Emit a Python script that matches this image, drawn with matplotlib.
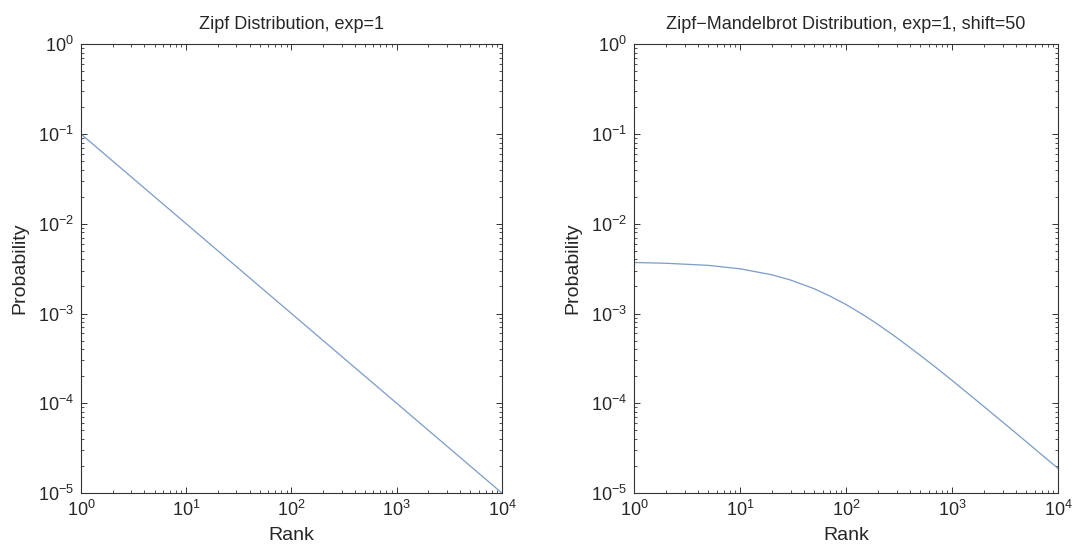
import matplotlib
matplotlib.use('Agg')
import matplotlib.pyplot as plt
import matplotlib.ticker as mticker

# values
zipf_rank = [1, 10, 100, 1000, 10000]
zipf_prob = [0.1, 0.01, 1e-3, 1e-4, 1e-5]

zm_rank = [1, 2, 5, 10, 20, 30, 50, 70, 100, 150, 200, 300, 500, 700,
           1000, 2000, 3000, 5000, 10000]
zm_prob = [3.70e-3, 3.63e-3, 3.44e-3, 3.15e-3, 2.70e-3, 2.36e-3, 1.89e-3,
           1.57e-3, 1.26e-3, 9.45e-4, 7.56e-4, 5.40e-4, 3.43e-4, 2.52e-4,
           1.80e-4, 9.2e-5, 6.19e-5, 3.74e-5, 1.88e-5]

titles = ['Zipf Distribution, exp=1',
          'Zipf\u2212Mandelbrot Distribution, exp=1, shift=50']

plt.rcParams['font.family'] = ['Liberation Sans', 'DejaVu Sans']
plt.rcParams['mathtext.fontset'] = 'custom'
plt.rcParams['mathtext.rm'] = 'Liberation Sans'
plt.rcParams['mathtext.it'] = 'Liberation Sans'
line_col = '#7a9cc8'
txt_col = '#262626'

fig = plt.figure(figsize=(10.75, 5.46), dpi=100)
ax1 = fig.add_axes([0.0753, 0.097, 0.3916, 0.822])
ax2 = fig.add_axes([0.5898, 0.097, 0.3944, 0.822])


def style(ax, title):
    ax.set_xscale('log')
    ax.set_yscale('log')
    ax.set_xlim(1, 1e4)
    ax.set_ylim(1e-5, 1)
    ax.set_xticks([1, 10, 100, 1000, 10000])
    ax.set_yticks([1e-5, 1e-4, 1e-3, 1e-2, 1e-1, 1])
    ax.xaxis.set_minor_locator(mticker.LogLocator(base=10, subs=range(2, 10), numticks=20))
    ax.yaxis.set_minor_locator(mticker.LogLocator(base=10, subs=range(2, 10), numticks=20))
    ax.xaxis.set_minor_formatter(mticker.NullFormatter())
    ax.yaxis.set_minor_formatter(mticker.NullFormatter())
    ax.tick_params(which='both', direction='in', top=True, right=True,
                   colors='#333333', labelcolor=txt_col, labelsize=13)
    ax.tick_params(which='major', length=4, width=0.7)
    ax.tick_params(which='minor', length=2, width=0.6)
    ax.tick_params(axis='x', pad=5)
    ax.tick_params(axis='y', pad=5)
    for s in ax.spines.values():
        s.set_color('#333333')
        s.set_linewidth(0.8)
    ax.set_title(title, fontsize=13, color=txt_col, pad=11)
    ax.set_xlabel('Rank', fontsize=14, color=txt_col, labelpad=5)
    ax.set_ylabel('Probability', fontsize=14, color=txt_col, labelpad=7)


ax1.plot(zipf_rank, zipf_prob, color=line_col, lw=0.9)
style(ax1, titles[0])

ax2.plot(zm_rank, zm_prob, color=line_col, lw=0.9)
style(ax2, titles[1])

plt.savefig('out.png', dpi=100)
